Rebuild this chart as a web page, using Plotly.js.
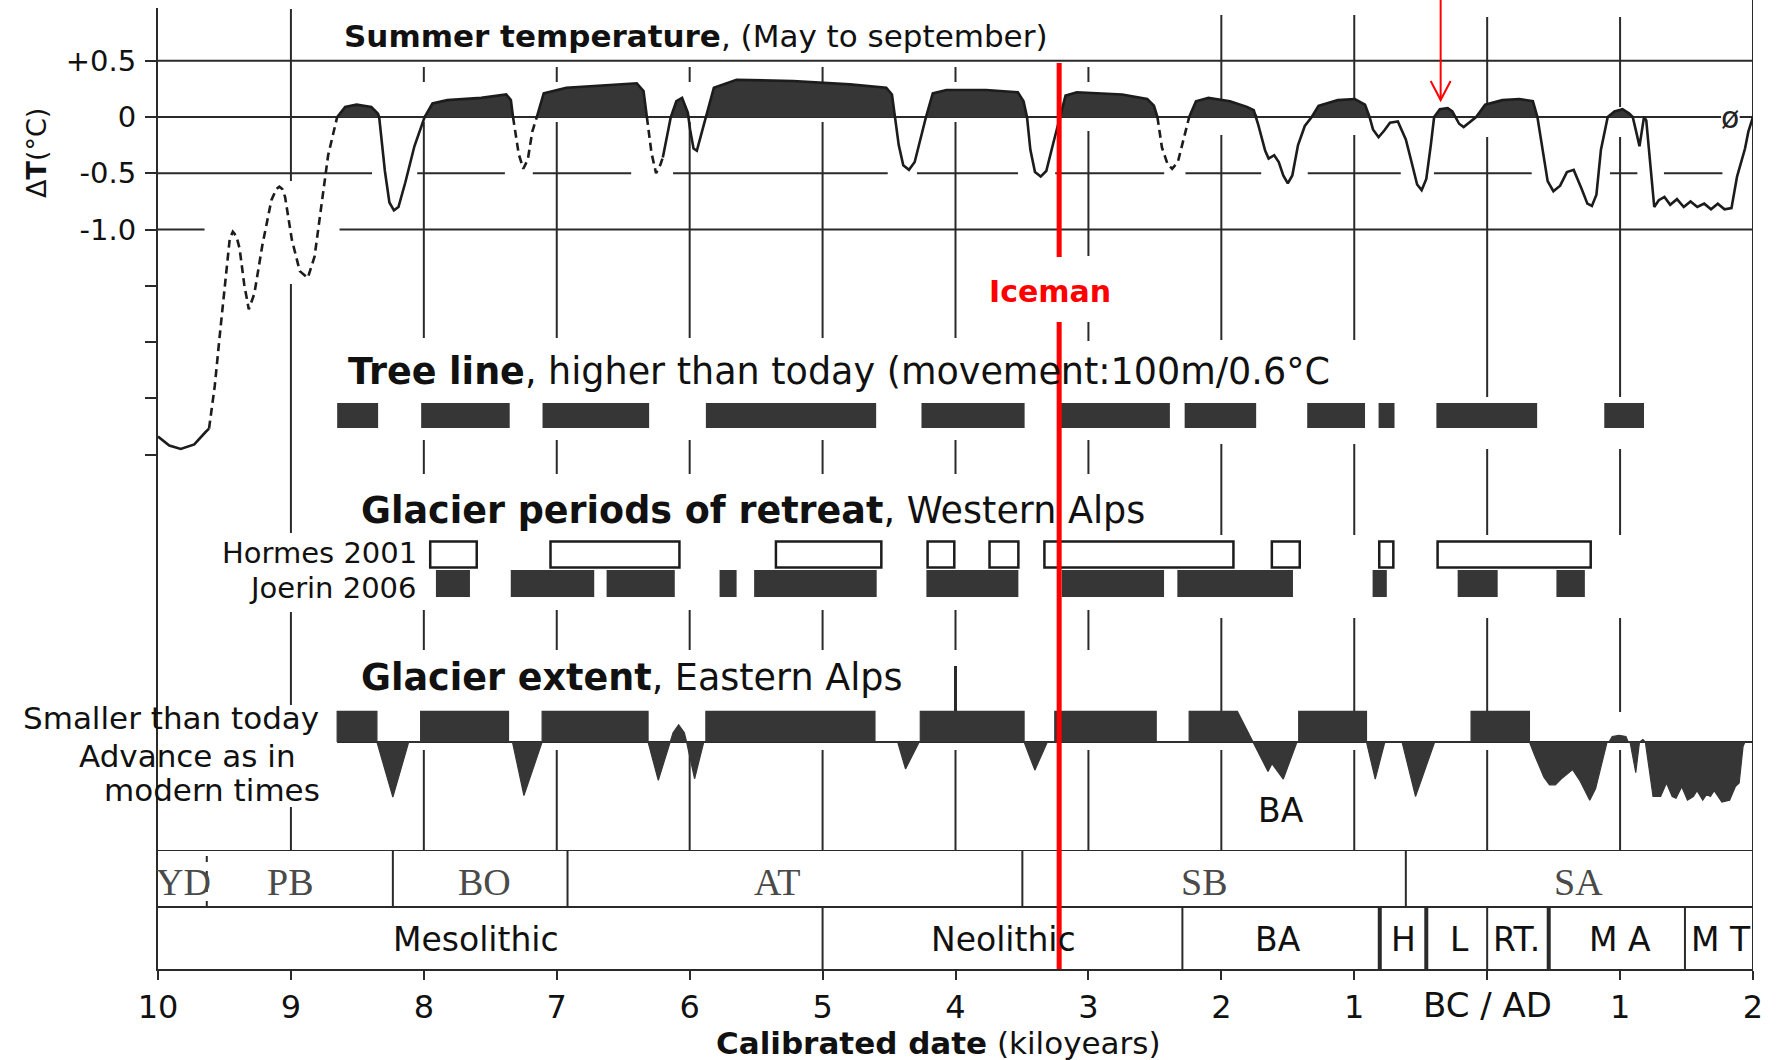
<!DOCTYPE html>
<html><head><meta charset="utf-8">
<script src="https://cdn.plot.ly/plotly-3.0.1.min.js"></script>
<style>html,body{margin:0;padding:0;background:#fff;}#chart{width:1777px;height:1060px;}</style>
</head><body><div id="chart"></div>
<script>
// ---------------- DATA (x = kiloyears, negative = BC) ----------------
const tempT = [-10.000,-9.915,-9.829,-9.727,-9.642,-9.616,-9.573,-9.531,-9.488,-9.460,-9.437,-9.410,-9.386,-9.351,-9.317,-9.275,-9.215,-9.147,-9.110,-9.087,-9.065,-9.044,-8.993,-8.933,-8.873,-8.822,-8.771,-8.720,-8.652,
 -8.592,-8.506,-8.395,-8.345,-8.336,-8.293,-8.259,-8.225,-8.191,-8.139,-8.071,-7.994,-7.935,-7.824,-7.568,-7.380,-7.345,-7.329,-7.286,-7.252,-7.218,-7.184,-7.150,
 -7.098,-6.928,-6.586,-6.398,-6.347,-6.322,-6.287,-6.253,-6.219,-6.202,-6.142,-6.100,-6.057,-6.014,-5.997,-5.971,-5.946,-5.912,-5.878,
 -5.818,-5.647,-5.221,-4.794,-4.521,-4.478,-4.453,-4.427,-4.393,-4.350,-4.307,-4.265,-4.222,-4.171,-4.068,-3.770,-3.531,-3.488,-3.462,
 -3.437,-3.402,-3.359,-3.317,-3.266,-3.215,-3.172,-3.087,-2.746,-2.558,-2.507,-2.481,-2.447,-2.404,-2.370,-2.327,-2.285,-2.242,
 -2.191,-2.097,-1.935,-1.807,-1.756,-1.722,-1.670,-1.644,-1.602,-1.568,-1.534,-1.500,-1.466,-1.423,-1.372,-1.320,-1.269,-1.124,-0.996,-0.919,-0.885,
 -0.859,-0.817,-0.774,-0.731,-0.672,-0.612,-0.569,-0.527,-0.493,-0.458,-0.424,-0.399,-0.356,-0.297,-0.262,-0.236,-0.211,-0.177,-0.134,-0.083,
 -0.015,0.114,0.242,0.344,0.378,0.412,0.455,0.498,0.549,0.600,0.651,0.711,0.754,0.788,0.822,0.856,0.907,0.958,1.018,1.069,1.095,
 1.121,1.146,1.163,1.180,1.197,1.223,1.257,1.291,1.334,1.377,1.428,1.479,1.530,1.581,1.633,1.684,1.735,1.786,1.838,1.880,1.914,1.940,1.965,2.000];
const tempV = [-2.84,-2.92,-2.95,-2.91,-2.80,-2.77,-2.39,-1.89,-1.39,-1.08,-1.02,-1.06,-1.17,-1.49,-1.71,-1.57,-1.14,-0.74,-0.64,-0.62,-0.64,-0.71,-1.09,-1.37,-1.43,-1.24,-0.79,-0.34,0,
 0.09,0.11,0.09,0.03,0,-0.48,-0.76,-0.83,-0.80,-0.58,-0.26,0,0.12,0.15,0.17,0.20,0.15,0,-0.33,-0.46,-0.38,-0.13,0,
 0.21,0.26,0.29,0.30,0.23,0,-0.32,-0.50,-0.42,-0.36,0,0.14,0.17,0.04,-0.11,-0.28,-0.30,-0.15,0,
 0.26,0.33,0.32,0.29,0.26,0.20,0,-0.25,-0.43,-0.47,-0.40,-0.20,0,0.21,0.24,0.24,0.22,0.14,0,
 -0.29,-0.49,-0.53,-0.48,-0.24,0,0.19,0.22,0.20,0.16,0.10,0,-0.27,-0.42,-0.46,-0.40,-0.20,0,
 0.14,0.17,0.14,0.09,0.06,-0.07,-0.30,-0.37,-0.34,-0.40,-0.52,-0.59,-0.52,-0.25,-0.08,0,0.10,0.15,0.16,0.11,0,
 -0.11,-0.18,-0.12,-0.05,-0.04,-0.20,-0.40,-0.60,-0.65,-0.55,-0.25,0,0.07,0.08,0.05,0,-0.06,-0.09,-0.05,0,
 0.11,0.15,0.16,0.14,0,-0.24,-0.57,-0.66,-0.61,-0.49,-0.47,-0.64,-0.77,-0.79,-0.69,-0.29,0,0.05,0.07,0.03,0,
 -0.13,-0.26,-0.13,0,-0.03,-0.38,-0.80,-0.74,-0.71,-0.78,-0.73,-0.80,-0.75,-0.80,-0.77,-0.82,-0.77,-0.82,-0.81,-0.53,-0.38,-0.28,-0.13,0];
const tempDashedRanges = [[-9.616,-8.652],[-7.329,-7.150],[-6.322,-6.202],[-2.481,-2.242]];

const treeStart = [-8.652,-8.020,-7.107,-5.878,-4.256,-3.206,-2.276,-1.354,-0.817,-0.382,0.881];
const treeEnd   = [-8.344,-7.354,-6.305,-4.597,-3.480,-2.387,-1.738,-0.919,-0.697,0.376,1.180];

const hormesStart = [-7.952,-7.047,-5.351,-4.210,-3.744,-3.331,-1.620,-0.812,-0.373];
const hormesEnd   = [-7.602,-6.077,-4.558,-4.009,-3.527,-1.909,-1.410,-0.706,0.779];
const joerinStart = [-7.909,-7.346,-6.625,-5.775,-5.515,-4.219,-3.201,-2.331,-0.862,-0.222,0.521];
const joerinEnd   = [-7.653,-6.718,-6.112,-5.647,-4.593,-3.527,-2.431,-1.461,-0.755,0.079,0.735];

// glacier extent: +1 = smaller than today, negative = advance
const extentT = [-8.652,-8.652,-8.353,-8.353,-8.233,-8.114,-8.024,-8.024,-7.363,-7.363,-7.333,-7.247,-7.110,-7.110,-6.313,-6.313,-6.236,-6.151,-6.125,-6.083,-6.040,-6.023,-5.963,-5.894,
 -5.878,-5.878,-4.606,-4.606,-4.435,-4.376,-4.273,-4.265,-4.265,-3.484,-3.484,-3.403,-3.309,-3.253,-3.253,-2.490,-2.490,
 -2.242,-2.242,-1.879,-1.764,-1.649,-1.619,-1.534,-1.431,-1.418,-1.418,-0.908,-0.908,-0.842,-0.770,-0.640,-0.539,-0.395,
 -0.121,-0.121,0.318,0.318,0.354,0.427,0.469,0.513,0.556,0.643,0.700,0.772,0.816,0.873,0.902,0.916,0.941,0.993,1.044,1.061,
 1.075,1.118,1.146,1.172,1.190,1.248,1.305,1.349,1.392,1.421,1.464,1.507,1.551,1.579,1.622,1.651,1.679,1.708,1.766,1.824,1.867,1.896,1.925,1.939];
const extentV = [0,1,1,0,-1.8,0,0,1,1,0,0,-1.75,0,1,1,0,-1.25,0,0.3,0.56,0.3,0,-1.2,0,
 0,1,1,0,0,-0.88,0,0,1,1,0,-0.92,0,0,1,1,0,
 0,1,1,0,-0.96,-0.71,-1.21,0,0,1,1,0,-1.21,0,0,-1.78,0,
 0,1,1,0,-0.4,-1.15,-1.4,-1.4,-1.21,-0.9,-1.28,-1.9,-1.52,-0.53,0,0,0.18,0.22,0.18,0,
 0,-1.0,0,0.08,0,-1.78,-1.78,-1.34,-1.78,-1.84,-1.46,-1.9,-1.78,-1.59,-1.9,-1.71,-1.78,-1.59,-1.96,-1.9,-1.46,-1.34,-0.15,0];

const zoneNames  = ['YD','PB','BO','AT','SB','SA'];
const zoneBounds = [-10,-9.633,-8.233,-6.919,-3.497,-0.612,2];
const zoneLabelT = [-9.81,-9.01,-7.54,-5.34,-2.13,0.685];
const cultureNames  = ['Mesolithic','Neolithic','BA','H','L','RT.','M A','M T'];
const cultureBounds = [-10,-5.0,-2.293,-0.808,-0.458,0.0,0.463,1.488,2];
const cultureLabelT = [-7.61,-3.64,-1.57,-0.63,-0.21,0.22,1.0,1.76];

const xTickVals = [-10,-9,-8,-7,-6,-5,-4,-3,-2,-1,0,1,2];
const xTickText = ['10','9','8','7','6','5','4','3','2','1','','1','2'];
const yTickVals = [0.5,0,-0.5,-1,-1.5,-2,-2.5,-3];
const yTickText = ['+0.5','0','-0.5','-1.0','','','',''];
const icemanT = -3.22;
const arrowT = -0.35;

// ---------------- STYLE / LAYOUT HELPERS ----------------
const DARK = '#363636', INK = '#1c1c1c', GRID = '#2a2a2a';
const FONT = 'DejaVu Sans, Arial, sans-serif';
const P = fy => (969 - fy) / 961;   // page pixel row -> paper fraction

// temperature traces
const inDash = t => tempDashedRanges.some(r => t > r[0] + 1e-6 && t < r[1] - 1e-6);
const solidX = [], solidY = [];
let gapOpen = false;
tempT.forEach((t, i) => {
  if (inDash(t)) { if (!gapOpen) { solidX.push(null); solidY.push(null); gapOpen = true; } }
  else { solidX.push(t); solidY.push(tempV[i]); gapOpen = false; }
});
const traces = [];
traces.push({type:'scatter', mode:'lines', x:tempT, y:tempV.map(v => v > 0 ? v : 0), fill:'tozeroy',
  fillcolor:DARK, line:{width:0, color:'rgba(0,0,0,0)'}, xaxis:'x', yaxis:'y', hoverinfo:'skip'});
traces.push({type:'scatter', mode:'lines', x:solidX, y:solidY, connectgaps:false,
  line:{color:INK, width:2.6}, xaxis:'x', yaxis:'y', hoverinfo:'skip'});
tempDashedRanges.forEach(r => {
  const xs = [], ys = [];
  tempT.forEach((t, i) => { if (t >= r[0] - 1e-6 && t <= r[1] + 1e-6) { xs.push(t); ys.push(tempV[i]); } });
  traces.push({type:'scatter', mode:'lines', x:xs, y:ys, line:{color:INK, width:2.6, dash:'8px,5px'},
    xaxis:'x', yaxis:'y', hoverinfo:'skip'});
});
// tree line
traces.push({type:'bar', orientation:'h', y:treeStart.map(() => 0), base:treeStart,
  x:treeStart.map((s, i) => treeEnd[i] - s), width:1, marker:{color:DARK, line:{width:0}},
  xaxis:'x', yaxis:'y2', hoverinfo:'skip'});
// glacier retreat
traces.push({type:'bar', orientation:'h', y:joerinStart.map(() => 0.5), base:joerinStart,
  x:joerinStart.map((s, i) => joerinEnd[i] - s), width:0.93, marker:{color:DARK, line:{width:0}},
  xaxis:'x', yaxis:'y3', hoverinfo:'skip'});
traces.push({type:'bar', orientation:'h', y:hormesStart.map(() => 1.5), base:hormesStart,
  x:hormesStart.map((s, i) => hormesEnd[i] - s), width:0.9, marker:{color:'#ffffff', line:{width:2.5, color:INK}},
  xaxis:'x', yaxis:'y3', hoverinfo:'skip'});
// glacier extent
traces.push({type:'scatter', mode:'lines', x:extentT, y:extentV, fill:'tozeroy', fillcolor:DARK,
  line:{color:DARK, width:1.2}, xaxis:'x', yaxis:'y4', hoverinfo:'skip'});

// ---------------- SHAPES ----------------
const shapes = [];
const vseg = (t, a, b, w, col, layer) => shapes.push({type:'line', xref:'x', yref:'paper', x0:t, x1:t,
  y0:P(a), y1:P(b), line:{color:col || GRID, width:w || 2}, layer:layer || 'below'});
const hseg = (yref, y, t0, t1, w, dash) => shapes.push({type:'line', xref:'x', yref:yref, x0:t0, x1:t1,
  y0:y, y1:y, line:{color:GRID, width:w || 2, dash:dash || 'solid'}, layer:'below'});

const gridSegs = {
  '-9': [[9,181],[284,533],[612,705],[807,850]],
  '-3': [[67,82],[131,256],[322,341],[440,474],[610,650],[750,850]],
  '-2': [[15,100],[135,340],[444,535],[618,712],[750,850]],
  '-1': [[15,100],[135,340],[444,535],[618,712],[750,850]],
  '0':  [[17,107],[137,397],[449,535],[618,712],[750,850]],
  '1':  [[17,107],[137,397],[449,535],[618,712],[750,850]],
  '2':  [[0,969]]
};
const stdSegs = [[67,82],[122,338],[440,474],[610,650],[750,850]];
xTickVals.slice(1).forEach(t => (gridSegs[String(t)] || stdSegs).forEach(s => vseg(t, s[0], s[1])));
vseg(-4, 666, 712, 3);

// temperature panel horizontal lines
hseg('y', 0.5, -10, 2);
hseg('y', 0, -10, 1.76); hseg('y', 0, 1.90, 2);
[[-10,-8.39],[-8.05,-7.39],[-7.18,-6.44],[-6.125,-4.51],[-4.29,-3.53],[-3.25,-2.43],[-2.27,-1.70],
 [-1.35,-0.65],[-0.40,0.335],[0.924,1.13],[1.33,1.77]].forEach(s => hseg('y', -0.5, s[0], s[1]));
hseg('y', -1, -10, -9.65); hseg('y', -1, -8.634, 2);
// glacier extent baseline
hseg('y4', 0, -8.652, 2);
// chronozone rows
hseg('y5', 2, -10, 2); hseg('y5', 1.04, -10, 2);
zoneBounds.slice(1, -1).forEach((b, i) => shapes.push({type:'line', xref:'x', yref:'y5', x0:b, x1:b, y0:1.04, y1:2,
  line:{color:GRID, width:2, dash: i === 0 ? '6px,9px' : 'solid'}, layer:'below'}));
const thick = [false, false, true, true, false, true, false];
cultureBounds.slice(1, -1).forEach((b, i) => shapes.push({type:'line', xref:'x', yref:'y5', x0:b, x1:b, y0:0, y1:1.04,
  line:{color:GRID, width: thick[i] ? 4 : 2}, layer:'below'}));
// Iceman red line
shapes.push({type:'line', xref:'x', yref:'paper', x0:icemanT, x1:icemanT, y0:P(63), y1:P(257), line:{color:'#ff0000', width:5}, layer:'above'});
shapes.push({type:'line', xref:'x', yref:'paper', x0:icemanT, x1:icemanT, y0:P(322), y1:P(969), line:{color:'#ff0000', width:5}, layer:'above'});
// red arrow
shapes.push({type:'line', xref:'x', yref:'paper', x0:arrowT, x1:arrowT, y0:P(0), y1:P(100), line:{color:'#ff0000', width:2}, layer:'above'});
shapes.push({type:'path', xref:'x', yref:'paper',
  path:`M ${arrowT-0.075},${P(81)} L ${arrowT},${P(100)} L ${arrowT+0.075},${P(81)}`,
  line:{color:'#ff0000', width:2}, layer:'above'});

// ---------------- ANNOTATIONS ----------------
const ann = [];
const txt = (o) => ann.push(Object.assign({showarrow:false, xref:'x', yref:'paper', xanchor:'left', yanchor:'middle',
  font:{family:FONT, size:31, color:'#111'}}, o));
txt({x:-8.612, y:P(36), text:'<b>Summer temperature</b>, (May to september)', font:{family:FONT, size:31, color:'#111'}});
txt({x:-8.582, y:P(372), text:'<b>Tree line</b>, higher than today (movement:100m/0.6°C', font:{family:FONT, size:36.5, color:'#111'}});
txt({x:-8.485, y:P(510), text:'<b>Glacier periods of retreat</b>, Western Alps', font:{family:FONT, size:36.5, color:'#111'}});
txt({x:-8.485, y:P(678), text:'<b>Glacier extent</b>, Eastern Alps', font:{family:FONT, size:36.5, color:'#111'}});
txt({x:-3.29, y:P(292), xanchor:'center', text:'<b>Iceman</b>', font:{family:FONT, size:30, color:'#ff0000'}});
txt({x:-8.033, y:P(553), xanchor:'right', text:'Hormes 2001', font:{family:FONT, size:29, color:'#111'}});
txt({x:-8.033, y:P(588), xanchor:'right', text:'Joerin 2006', font:{family:FONT, size:29, color:'#111'}});
txt({x:-8.776, y:P(718), xanchor:'right', text:'Smaller than today'});
txt({x:-8.95, y:P(756), xanchor:'right', text:'Advance as in'});
txt({x:-8.763, y:P(790), xanchor:'right', text:'modern times'});
txt({x:-1.55, y:P(810), xanchor:'center', text:'BA', font:{family:FONT, size:33, color:'#111'}});
txt({x:1.83, yref:'y', y:0.0, xanchor:'center', text:'ø', font:{family:FONT, size:30, color:'#222'}});
txt({x:0, y:P(1005), xanchor:'center', text:'BC / AD', font:{family:FONT, size:34, color:'#111'}});
txt({x:-4.13, y:P(1043), xanchor:'center', text:'<b>Calibrated date</b> (kiloyears)', font:{family:FONT, size:31, color:'#111'}});
txt({xref:'paper', x:-0.0759, y:P(153), xanchor:'center', textangle:-90, text:'Δ<b>T</b>(°C)', font:{family:FONT, size:27, color:'#111'}});
zoneNames.forEach((n, i) => txt({yref:'y5', y:1.47, xanchor:'center', x:zoneLabelT[i], text:n,
  font:{family:'Liberation Serif, DejaVu Serif, serif', size:38, color:'#4a4a4a'}}));
cultureNames.forEach((n, i) => txt({yref:'y5', y:0.5, xanchor:'center', x:cultureLabelT[i], text:n,
  font:{family:FONT, size:33, color:'#111'}}));

const hidden = {visible:false, fixedrange:true, anchor:'x'};
const layout = {
  width:1777, height:1060, margin:{l:158, r:24, t:8, b:91},
  paper_bgcolor:'#ffffff', plot_bgcolor:'rgba(0,0,0,0)', showlegend:false, hovermode:false,
  barmode:'overlay', font:{family:FONT, color:'#111'},
  xaxis:{range:[-10,2], domain:[0,1], anchor:'y', tickmode:'array', tickvals:xTickVals, ticktext:xTickText,
    ticks:'outside', ticklen:9, tickwidth:2, tickcolor:GRID, showline:true, linewidth:2, linecolor:GRID,
    showgrid:false, zeroline:false, tickfont:{family:FONT, size:32, color:'#111'}, fixedrange:true},
  yaxis:{range:[-7.5733,0.9689], domain:[0,1], anchor:'x', tickmode:'array', tickvals:yTickVals, ticktext:yTickText,
    ticks:'outside', ticklen:11, tickwidth:2, tickcolor:GRID, showline:true, linewidth:2, linecolor:GRID,
    showgrid:false, zeroline:false, ticklabelstandoff:3, tickfont:{family:FONT, size:29, color:'#111'}, fixedrange:true},
  yaxis2:Object.assign({domain:[P(428), P(403)], range:[-0.5,0.5]}, hidden),
  yaxis3:Object.assign({domain:[P(598), P(540)], range:[0,2]}, hidden),
  yaxis4:Object.assign({domain:[P(810), P(700)], range:[-2.222,1.373]}, hidden),
  yaxis5:Object.assign({domain:[0, P(850)], range:[0,2]}, hidden),
  shapes:shapes, annotations:ann
};
Plotly.newPlot('chart', traces, layout, {staticPlot:true, displayModeBar:false});
</script></body></html>
